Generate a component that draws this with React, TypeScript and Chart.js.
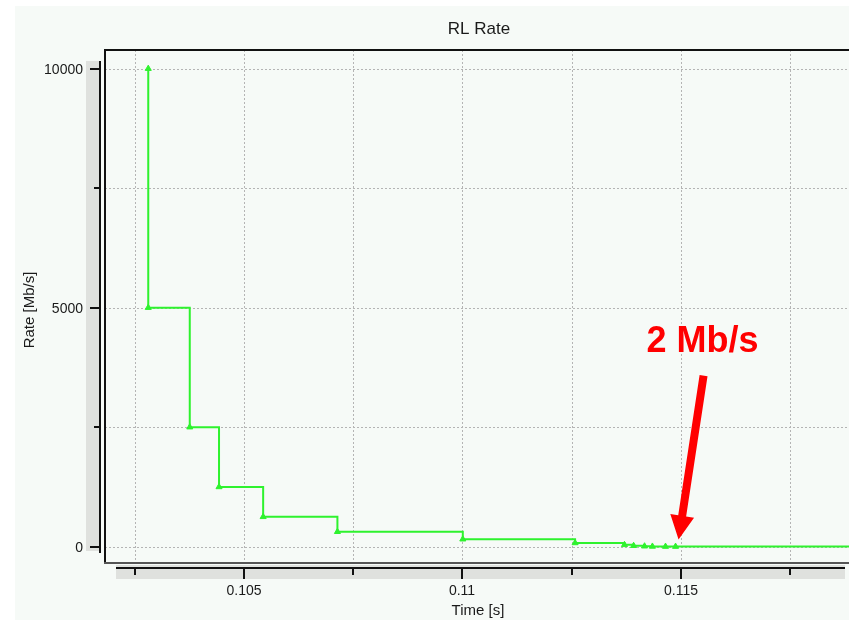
import { useEffect, useRef } from "react";
import { Chart, registerables } from "chart.js";

Chart.register(...registerables);

// Rate-limiter rate over time: halves on each event until it hits the 2 Mb/s floor
const timeS = [
  0.10281, 0.10281, 0.10376, 0.10443, 0.10544, 0.10714, 0.11001, 0.11258,
  0.11371, 0.11392, 0.11417, 0.11435, 0.11465, 0.11488, 0.1195,
];
const rateMbps = [
  10000, 5000, 2500, 1250, 625, 312.5, 156.25, 78.125, 39.06, 19.53, 9.77,
  4.88, 2.44, 2, 2,
];

const yTicks = [0, 2500, 5000, 7500, 10000];
const yTickLabels = ["0", "", "5000", "", "10000"];
const xTicks = [0.1025, 0.105, 0.1075, 0.11, 0.1125, 0.115, 0.1175];
const xTickLabels = ["", "0.105", "", "0.11", "", "0.115", ""];

const chartTitle = "RL Rate";
const xTitle = "Time [s]";
const yTitle = "Rate [Mb/s]";
const calloutText = "2 Mb/s";

const FONT = '"Liberation Sans", Arial, Helvetica, sans-serif';
const BG = "#f6faf7";
const STRIP = "#dfe1de";
const GREEN = "#2ef22e";

const framePlugin = {
  id: "frame",
  beforeDraw(chart: any) {
    const { ctx, width, height } = chart;
    ctx.save();
    ctx.fillStyle = "#ffffff";
    ctx.fillRect(0, 0, width, height);
    ctx.fillStyle = BG;
    ctx.fillRect(15, 6, width - 15, height - 6);
    ctx.restore();
  },
  beforeDatasetsDraw(chart: any) {
    const { ctx, chartArea: a, scales } = chart;
    const xs = scales.x;
    const ys = scales.y;
    ctx.save();
    ctx.strokeStyle = "#b4b4b4";
    ctx.lineWidth = 1;
    ctx.setLineDash([2, 2]);
    for (const v of yTicks) {
      const y = Math.round(ys.getPixelForValue(v)) + 0.5;
      ctx.beginPath();
      ctx.moveTo(a.left, y);
      ctx.lineTo(a.right, y);
      ctx.stroke();
    }
    for (const v of xTicks) {
      const x = Math.round(xs.getPixelForValue(v)) + 0.5;
      ctx.beginPath();
      ctx.moveTo(x, a.top);
      ctx.lineTo(x, a.bottom);
      ctx.stroke();
    }
    ctx.restore();
  },
  afterDraw(chart: any) {
    const { ctx, chartArea: a, scales } = chart;
    const xs = scales.x;
    const ys = scales.y;
    ctx.save();

    // plot frame (left, top, bottom)
    ctx.setLineDash([]);
    ctx.lineWidth = 2;
    ctx.strokeStyle = "#111111";
    ctx.beginPath();
    ctx.moveTo(a.left, a.bottom);
    ctx.lineTo(a.left, a.top);
    ctx.lineTo(a.right, a.top);
    ctx.stroke();
    ctx.strokeStyle = "#555555";
    ctx.beginPath();
    ctx.moveTo(a.left - 1, a.bottom);
    ctx.lineTo(a.right, a.bottom);
    ctx.stroke();

    // y axis strip
    const yAxisX = a.left - 5;
    ctx.fillStyle = STRIP;
    ctx.fillRect(yAxisX - 14, a.top + 11, 14, a.bottom - a.top - 23);
    ctx.strokeStyle = "#111111";
    ctx.lineWidth = 2;
    ctx.beginPath();
    ctx.moveTo(yAxisX, a.top + 11);
    ctx.lineTo(yAxisX, a.bottom - 10);
    ctx.stroke();
    ctx.font = `14px ${FONT}`;
    ctx.fillStyle = "#1a1a1a";
    ctx.textAlign = "right";
    ctx.textBaseline = "middle";
    yTicks.forEach((v, i) => {
      const y = Math.round(ys.getPixelForValue(v));
      const major = yTickLabels[i] !== "";
      ctx.beginPath();
      ctx.moveTo(yAxisX, y);
      ctx.lineTo(yAxisX - (major ? 10 : 6), y);
      ctx.stroke();
      if (major) ctx.fillText(yTickLabels[i], yAxisX - 17, y + 1);
    });

    // x axis strip
    const xAxisY = a.bottom + 5;
    ctx.fillStyle = STRIP;
    ctx.fillRect(a.left + 11, xAxisY - 3, a.right - a.left - 15, 14);
    ctx.strokeStyle = "#111111";
    ctx.beginPath();
    ctx.moveTo(a.left + 11, xAxisY);
    ctx.lineTo(a.right - 4, xAxisY);
    ctx.stroke();
    ctx.fillStyle = "#1a1a1a";
    ctx.textAlign = "center";
    ctx.textBaseline = "alphabetic";
    xTicks.forEach((v, i) => {
      const x = Math.round(xs.getPixelForValue(v));
      const major = xTickLabels[i] !== "";
      ctx.beginPath();
      ctx.moveTo(x, xAxisY);
      ctx.lineTo(x, xAxisY + (major ? 11 : 7));
      ctx.stroke();
      if (major) ctx.fillText(xTickLabels[i], x, xAxisY + 27);
    });

    // titles
    ctx.fillStyle = "#1a1a1a";
    ctx.font = `17px ${FONT}`;
    ctx.textAlign = "center";
    ctx.fillText(chartTitle, 479, 34);
    ctx.font = `15px ${FONT}`;
    ctx.fillText(xTitle, 478, 615);
    ctx.save();
    ctx.translate(34, 310);
    ctx.rotate(-Math.PI / 2);
    ctx.fillText(yTitle, 0, 0);
    ctx.restore();

    // callout pointing at the floor rate
    const last = rateMbps.length - 2;
    const tipX = xs.getPixelForValue(timeS[last]) + 3;
    const tipY = ys.getPixelForValue(rateMbps[last]) - 7;
    const tailX = tipX + 25;
    const tailY = tipY - 164;
    const dx = tipX - tailX;
    const dy = tipY - tailY;
    const len = Math.hypot(dx, dy);
    const ux = dx / len;
    const uy = dy / len;
    const px = -uy;
    const py = ux;
    const headLen = 24;
    const bx = tipX - ux * headLen;
    const by = tipY - uy * headLen;
    ctx.fillStyle = "#ff0000";
    ctx.beginPath();
    ctx.moveTo(tailX + px * 4, tailY + py * 4);
    ctx.lineTo(bx + px * 4, by + py * 4);
    ctx.lineTo(bx + px * 12, by + py * 12);
    ctx.lineTo(tipX, tipY);
    ctx.lineTo(bx - px * 12, by - py * 12);
    ctx.lineTo(bx - px * 4, by - py * 4);
    ctx.lineTo(tailX - px * 4, tailY - py * 4);
    ctx.closePath();
    ctx.fill();
    ctx.font = `bold 36px ${FONT}`;
    ctx.textAlign = "center";
    ctx.fillText(calloutText, tailX - 1, tailY - 24);

    ctx.restore();
  },
};

export default function App() {
  const canvasRef = useRef<HTMLCanvasElement>(null);

  useEffect(() => {
    const canvas = canvasRef.current;
    if (!canvas) return;
    const points = timeS.map((t, i) => ({ x: t, y: rateMbps[i] }));
    const radii = points.map((_, i) => (i === points.length - 1 ? 0 : 3.5));
    const chart = new Chart(canvas, {
      type: "line",
      data: {
        datasets: [
          {
            data: points,
            stepped: "before",
            borderColor: GREEN,
            backgroundColor: GREEN,
            borderWidth: 2,
            pointStyle: "triangle",
            pointRadius: radii,
            pointBorderWidth: 1,
            pointBorderColor: GREEN,
            pointBackgroundColor: GREEN,
            fill: false,
          },
        ],
      },
      options: {
        animation: false,
        responsive: false,
        devicePixelRatio: 1,
        layout: {
          autoPadding: false,
          padding: { left: 105, top: 50, right: 0, bottom: 57 },
        },
        plugins: {
          legend: { display: false },
          tooltip: { enabled: false },
          title: { display: false },
        },
        scales: {
          x: { type: "linear", display: false, min: 0.10182, max: 0.11885 },
          y: { type: "linear", display: false, min: -341, max: 10390 },
        },
      },
      plugins: [framePlugin],
    });
    return () => chart.destroy();
  }, []);

  return (
    <div style={{ position: "fixed", left: 0, top: 0, width: 849, height: 620 }}>
      <canvas ref={canvasRef} width={849} height={620} />
    </div>
  );
}
